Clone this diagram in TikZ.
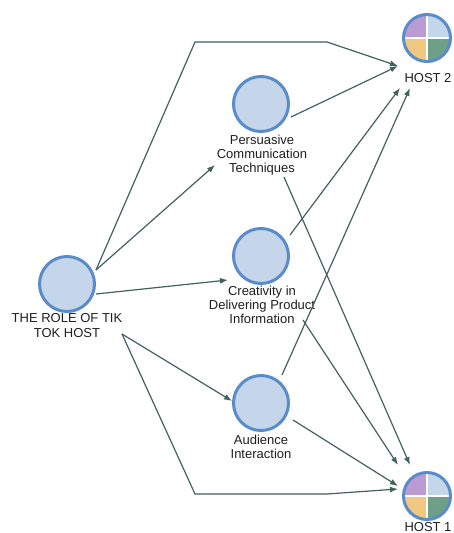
\documentclass[tikz,border=0pt]{standalone}
\usepackage{fontspec}
\setmainfont{Liberation Sans}
\usetikzlibrary{arrows.meta,calc}

\definecolor{nodefill}{HTML}{C5D6EA}
\definecolor{nodeedge}{HTML}{5A8CCB}
\definecolor{linkcol}{HTML}{41625E}
\definecolor{qpurple}{HTML}{BA9CD2}
\definecolor{qblue}{HTML}{C4D6EA}
\definecolor{qtan}{HTML}{F0C882}
\definecolor{qgreen}{HTML}{6EA087}

\tikzset{
  topic/.style={circle, draw=nodeedge, line width=2.25pt, fill=nodefill,
                minimum size=41.25pt, inner sep=0pt},
  hostspot/.style={circle, minimum size=37.5pt, inner sep=0pt},
  caption/.style={anchor=north, inner sep=0pt, align=center, text=black!88,
                  font=\fontsize{9.75pt}{10.5pt}\selectfont},
  link/.style={draw=linkcol, line width=0.9pt,
               -{Latex[length=6pt,width=4.5pt]}},
  pics/hostpie/.style={code={
    \begin{scope}
      \clip (0,0) circle (24);
      \fill[qpurple] (-25,-25) rectangle (0,0);
      \fill[qblue]   (0,-25) rectangle (25,0);
      \fill[qtan]    (-25,0) rectangle (0,25);
      \fill[qgreen]  (0,0) rectangle (25,25);
      \draw[white, line width=2pt] (-25,0) -- (25,0) (0,-25) -- (0,25);
    \end{scope}
    \draw[nodeedge, line width=2.25pt] (0,0) circle (23.5);
  }},
}

\begin{document}
\begin{tikzpicture}[x=0.75pt, y=-0.75pt]
  \useasboundingbox[fill=white] (0,0) rectangle (454,533);

  % topic circles
  \node[topic] (role) at (67,284) {};
  \node[topic] (per)  at (261,104) {};
  \node[topic] (cre)  at (261,256) {};
  \node[topic] (aud)  at (261,403) {};

  % host markers
  \node[hostspot] (h2) at (427,38) {};
  \node[hostspot] (h1) at (427,496) {};
  \pic at (h2) {hostpie};
  \pic at (h1) {hostpie};

  % captions
  \node[caption] (roletxt) at (67,313)  {THE ROLE OF TIK\\[1pt]TOK HOST};
  \node[caption] (pertxt)  at (262,135) {Persuasive\\Communication\\Techniques};
  \node[caption] (cretxt)  at (262,286) {Creativity in\\Delivering Product\\Information};
  \node[caption] (audtxt)  at (261,435) {Audience\\Interaction};
  \node[caption] (h2txt)   at (428,73)  {HOST 2};
  \node[caption] (h1txt)   at (428,522) {HOST 1};

  % bend points of the two long routes
  \coordinate (topa) at (195,42);
  \coordinate (topb) at (327,42);
  \coordinate (bota) at (195,494);
  \coordinate (botb) at (327,494);

  % links out of the central topic
  \draw[link] ($(role)+(29,-14)$) -- (topa) -- (topb) -- ($(h2)+(-29,28)$);
  \draw[link] ($(role)+(55,50)$) -- (bota) -- (botb) -- ($(h1)+(-29,-7)$);
  \draw[link] ($(role)+(29,-14)$) -- ($(per)+(-46,61)$);
  \draw[link] ($(role)+(29,10)$)  -- ($(cre)+(-33,24)$);
  \draw[link] ($(role)+(55,50)$)  -- ($(aud)+(-29,-2)$);

  % links into the hosts
  \draw[link] ($(per)+(30,13)$)  -- ($(h2)+(-29,28)$);
  \draw[link] ($(per)+(23,73)$)  -- ($(h1)+(-17,-31)$);
  \draw[link] ($(cre)+(29,-21)$) -- ($(h2)+(-27,50)$);
  \draw[link] ($(cre)+(42,64)$)  -- ($(h1)+(-29,-31)$);
  \draw[link] ($(aud)+(21,-28)$) -- ($(h2)+(-17,50)$);
  \draw[link] ($(aud)+(32,17)$)  -- ($(h1)+(-29,-10)$);
\end{tikzpicture}
\end{document}
